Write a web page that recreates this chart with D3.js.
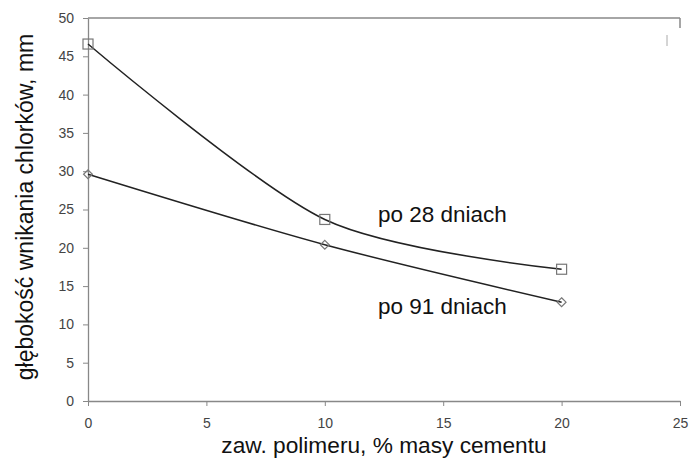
<!DOCTYPE html>
<html><head><meta charset="utf-8">
<script src="https://cdn.jsdelivr.net/npm/d3@7"></script>
<style>body{margin:0;background:#fff}svg{display:block}</style>
</head><body>
<svg id="c" width="700" height="460"></svg>
<script>
const xValues = [0, 10, 20];
const days28 = [46.6, 23.7, 17.2];
const days91 = [29.6, 20.4, 12.9];
const xTicks = [0, 5, 10, 15, 20, 25];
const yTicks = [0, 5, 10, 15, 20, 25, 30, 35, 40, 45, 50];
const seriesLabels = ["po 28 dniach", "po 91 dniach"];
const xTitle = "zaw. polimeru, % masy cementu";
const yTitle = "głębokość wnikania chlorków, mm";

const svg = d3.select("#c");
const x = d3.scaleLinear().domain([0, 25]).range([88, 680]);
const y = d3.scaleLinear().domain([0, 50]).range([401, 18]);
const axisColor = "#888";
const font = "Liberation Sans, Arial, sans-serif";

// top border
svg.append("line").attr("x1", x(0)).attr("x2", x(25)).attr("y1", y(50)).attr("y2", y(50))
  .attr("stroke", axisColor).attr("stroke-width", 1.3);
svg.append("line").attr("x1", x(25)).attr("x2", x(25)).attr("y1", y(50)).attr("y2", y(50) + 10)
  .attr("stroke", axisColor).attr("stroke-width", 1.5);
svg.append("line").attr("x1", 667).attr("x2", 667).attr("y1", 35).attr("y2", 46)
  .attr("stroke", "#aaa").attr("stroke-width", 1);

const gx = svg.append("g").attr("transform", `translate(0,${y(0)})`)
  .call(d3.axisBottom(x).tickValues(xTicks).tickSize(5).tickPadding(12).tickSizeOuter(0));
const gy = svg.append("g").attr("transform", `translate(${x(0)},0)`)
  .call(d3.axisLeft(y).tickValues(yTicks).tickSize(5).tickPadding(9).tickSizeOuter(0));
[gx, gy].forEach(g => {
  g.select(".domain").attr("stroke", axisColor).attr("stroke-width", 1.3);
  g.selectAll(".tick line").attr("stroke", axisColor).attr("stroke-width", 1);
  g.selectAll(".tick text").attr("fill", "#444").style("font-family", font).style("font-size", "14px");
});

const line = d3.line().x(d => x(d[0])).y(d => y(d[1])).curve(d3.curveCardinal.tension(0.15));
const s28 = xValues.map((v, i) => [v, days28[i]]);
const s91 = xValues.map((v, i) => [v, days91[i]]);
[s28, s91].forEach(s => {
  svg.append("path").attr("d", line(s)).attr("fill", "none").attr("stroke", "#222").attr("stroke-width", 1.5);
});
svg.selectAll(".sq").data(s28).join("rect")
  .attr("x", d => x(d[0]) - 5).attr("y", d => y(d[1]) - 5).attr("width", 10).attr("height", 10)
  .attr("fill", "none").attr("stroke", "#777").attr("stroke-width", 1.2);
const sym = d3.symbol().type(d3.symbolDiamond2).size(50);
svg.selectAll(".dm").data(s91).join("path")
  .attr("transform", d => `translate(${x(d[0])},${y(d[1])})`).attr("d", sym)
  .attr("fill", "none").attr("stroke", "#777").attr("stroke-width", 1.2);

svg.append("text").attr("x", 378).attr("y", 222).text(seriesLabels[0])
  .style("font-family", font).style("font-size", "22.5px").attr("fill", "#111");
svg.append("text").attr("x", 378).attr("y", 314).text(seriesLabels[1])
  .style("font-family", font).style("font-size", "22.5px").attr("fill", "#111");

svg.append("text").attr("x", 384).attr("y", 453).attr("text-anchor", "middle").text(xTitle)
  .style("font-family", font).style("font-size", "22.7px").attr("fill", "#111");
svg.append("text").attr("transform", "translate(33,207) rotate(-90)").attr("text-anchor", "middle").text(yTitle)
  .style("font-family", font).style("font-size", "23px").attr("fill", "#111");
</script>
</body></html>
